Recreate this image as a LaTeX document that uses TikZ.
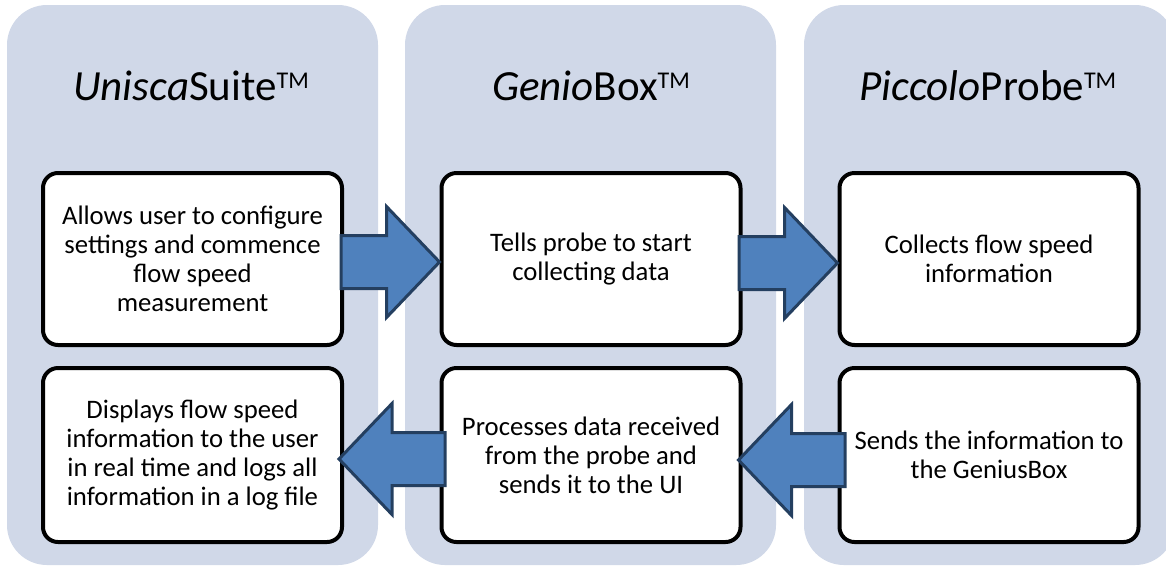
\documentclass[tikz,border=0pt]{standalone}
\usepackage{fontspec}
\setmainfont{Carlito}
\usetikzlibrary{calc}

\definecolor{lanefill}{HTML}{D0D8E8}
\definecolor{arrowfill}{HTML}{4F81BD}
\definecolor{arrowline}{HTML}{243F60}

\tikzset{
  lane/.style={fill=lanefill, draw=none, rounded corners=40pt},
  stepbox/.style={draw=black, line width=4pt, fill=white, rounded corners=15pt,
    minimum width=299pt, minimum height=172pt, align=center, inner sep=0pt,
    font=\fontsize{26.7}{29}\selectfont},
  lanetitle/.style={anchor=base, inner sep=0pt, font=\fontsize{43}{43}\selectfont},
  blockarrow/.style={fill=arrowfill, draw=arrowline, line width=3pt, line join=miter},
}

% trademark letters set small and raised
\newcommand\tmmark{\raisebox{12pt}{\fontsize{24}{24}\selectfont TM}}

% block arrow from tail #1 to tip #2 (horizontal)
\newcommand\flowarrow[2]{%
  \draw[blockarrow]
    ($(#1)+(0,-26.5)$) -- ($(#2)!53pt!(#1)+(0,-26.5)$)
    -- ($(#2)!53pt!(#1)+(0,-55.5)$) -- (#2)
    -- ($(#2)!53pt!(#1)+(0,55.5)$) -- ($(#2)!53pt!(#1)+(0,26.5)$)
    -- ($(#1)+(0,26.5)$) -- cycle;}

\begin{document}
\begin{tikzpicture}[x=1pt, y=-1pt]
\useasboundingbox (0,0) rectangle (1166,566);
\clip (0,0) rectangle (1166,566);
\fill[white] (0,0) rectangle (1166,566);

% three lanes
\path[lane] (7,5) rectangle (378,565);
\path[lane] (405,5) rectangle (776,565);
\path[lane] (804,5) rectangle (1175,565);

% lane titles
\node[lanetitle] (t1) at (191,100) {\textit{Unisca}Suite\tmmark};
\node[lanetitle] (t2) at (591,100) {\textit{Genio}Box\tmmark};
\node[lanetitle] (t3) at (988,100) {\textit{Piccolo}Probe\tmmark};

% process steps
\node[stepbox] (b1) at (192.5,259) {Allows user to configure\\settings and commence\\flow speed\\measurement};
\node[stepbox] (b2) at (591,259) {Tells probe to start\\collecting data};
\node[stepbox] (b3) at (989,259) {Collects flow speed\\information};
\node[stepbox, minimum height=174pt] (b4) at (192.5,455) {Displays flow speed\\information to the user\\in real time and logs all\\information in a log file};
\node[stepbox, minimum height=174pt] (b5) at (591,455) {Processes data received\\from the probe and\\sends it to the UI};
\node[stepbox, minimum height=174pt] (b6) at (989,455) {Sends the information to\\the GeniusBox};

% arrow end points
\coordinate (a1s) at ($(b1.east)+(-3,3)$);
\coordinate (a1e) at ($(b2.west)+(0,3)$);
\coordinate (a2s) at ($(b2.east)+(-3.5,4)$);
\coordinate (a2e) at ($(b3.west)+(0,4)$);
\coordinate (a3s) at ($(b6.west)+(7.5,5)$);
\coordinate (a3e) at ($(b5.east)+(-4,5)$);
\coordinate (a4s) at ($(b5.west)+(5.5,4)$);
\coordinate (a4e) at ($(b4.east)+(-5,4)$);

\flowarrow{a1s}{a1e}
\flowarrow{a2s}{a2e}
\flowarrow{a3s}{a3e}
\flowarrow{a4s}{a4e}
\end{tikzpicture}
\end{document}
